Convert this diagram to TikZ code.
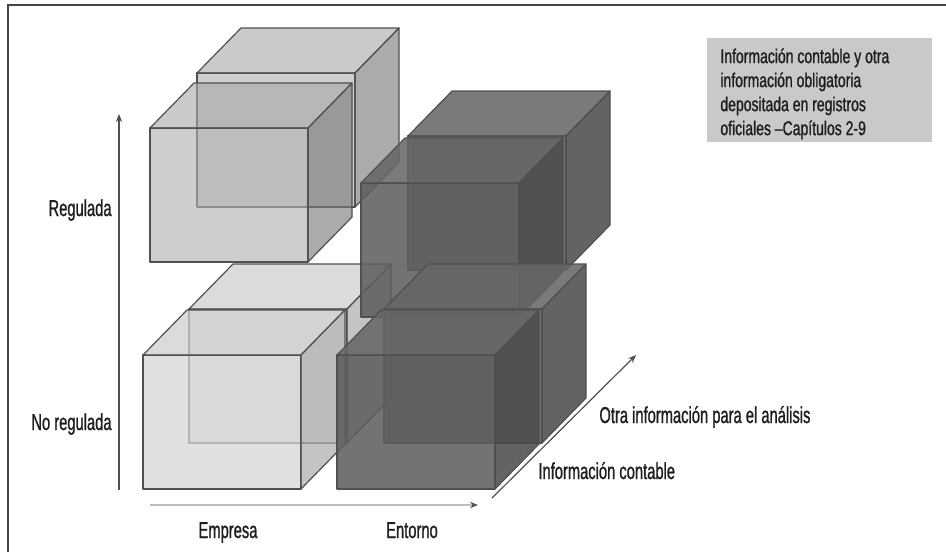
\documentclass[tikz,border=0pt]{standalone}
\usepackage{fontspec}
\setmainfont{Liberation Sans}[FakeStretch=0.64,FakeBold=1]
\newfontfamily\notefont{Liberation Sans}[FakeStretch=0.7,FakeBold=1,Ligatures=TeX]
\usetikzlibrary{arrows.meta}
\definecolor{edgegray}{HTML}{505052}
\definecolor{framegray}{HTML}{444444}
\definecolor{textgray}{HTML}{1E1E1E}
\definecolor{boxgray}{HTML}{C9C9CA}
\definecolor{axisgray}{HTML}{BDBDBD}
% face colours: f = front, t = top, r = right
\definecolor{shadelitef}{gray}{0.84}
\definecolor{shadelitet}{gray}{0.81}
\definecolor{shadeliter}{gray}{0.69}
\definecolor{shademidf}{gray}{0.70}
\definecolor{shademidt}{gray}{0.67}
\definecolor{shademidr}{gray}{0.48}
\definecolor{shadedarkf}{gray}{0.37}
\definecolor{shadedarkt}{gray}{0.40}
\definecolor{shadedarkr}{gray}{0.30}
% one see-through cube, #1 = top left corner of the front face, #2 = shade
\newcommand{\cuboid}[2]{%
  \begin{scope}[shift={(#1)},cubeface,#2]
    \filldraw[fill=#2f] (0,0) rectangle (158,134);
    \filldraw[fill=#2t] (0,0) -- (44,-45) -- (202,-45) -- (158,0) -- cycle;
    \filldraw[fill=#2r] (158,0) -- (202,-45) -- (202,89) -- (158,134) -- cycle;
  \end{scope}}
\begin{document}
\begin{tikzpicture}
[x=0.5pt,y=-0.5pt,
  cubeface/.style={draw=edgegray,line width=0.6pt,line join=round},%
  shadelite/.style={fill opacity=0.75},%
  shademid/.style={fill opacity=0.63},%
  shadedark/.style={fill opacity=0.87},%
  labeltext/.style={text=textgray,inner sep=0pt,font=\fontsize{11.5}{13}\selectfont},%
  axisarrow/.style={-{Stealth[length=4pt,width=3.2pt]},line width=0.6pt,draw=edgegray}]
\useasboundingbox (0,0) rectangle (946,552);
% frame
\draw[line width=1pt,framegray] (8,552) -- (8,5) -- (946,5);
% cubes, from back to front
\cuboid{197,73}{shademid}
\cuboid{150,128}{shademid}
\cuboid{189,309}{shadelite}
\cuboid{143,355}{shadelite}
\cuboid{408,136}{shadedark}
\cuboid{361,183}{shadedark}
\cuboid{384,309}{shadedark}
\cuboid{337,355}{shadedark}
% axes
\coordinate (vlo) at (119,490);
\coordinate (vhi) at (119,114);
\coordinate (hlo) at (150,505);
\coordinate (hhi) at (478,505);
\coordinate (dlo) at (492,498);
\coordinate (dhi) at (636,355);
\draw[axisarrow] (vlo) -- (vhi);
\draw[axisarrow,draw=axisgray,-{Stealth[length=4pt,width=3.2pt,color=edgegray]}] (hlo) -- (hhi);
\draw[axisarrow] (dlo) -- (dhi);
% labels
\node (regulada) [labeltext,anchor=base east] at (112,216) {Regulada};
\node (noregulada) [labeltext,anchor=base east] at (112,430) {No regulada};
\node (empresa) [labeltext,anchor=base] at (228,538) {Empresa};
\node (entorno) [labeltext,anchor=base] at (412,538) {Entorno};
\node (contable) [labeltext,anchor=base west] at (538,479) {Información contable};
\node (otra) [labeltext,anchor=base west] at (599,423) {Otra información para el análisis};
% note box
\fill[boxgray] (707,38) rectangle (932,142);
\node (nota) [labeltext,anchor=north west,align=left,
  font=\notefont\fontsize{10}{12}\selectfont] at (720,48)
  {Información contable y otra\\información obligatoria\\depositada en registros\\oficiales –Capítulos 2-9};
\end{tikzpicture}
\end{document}
